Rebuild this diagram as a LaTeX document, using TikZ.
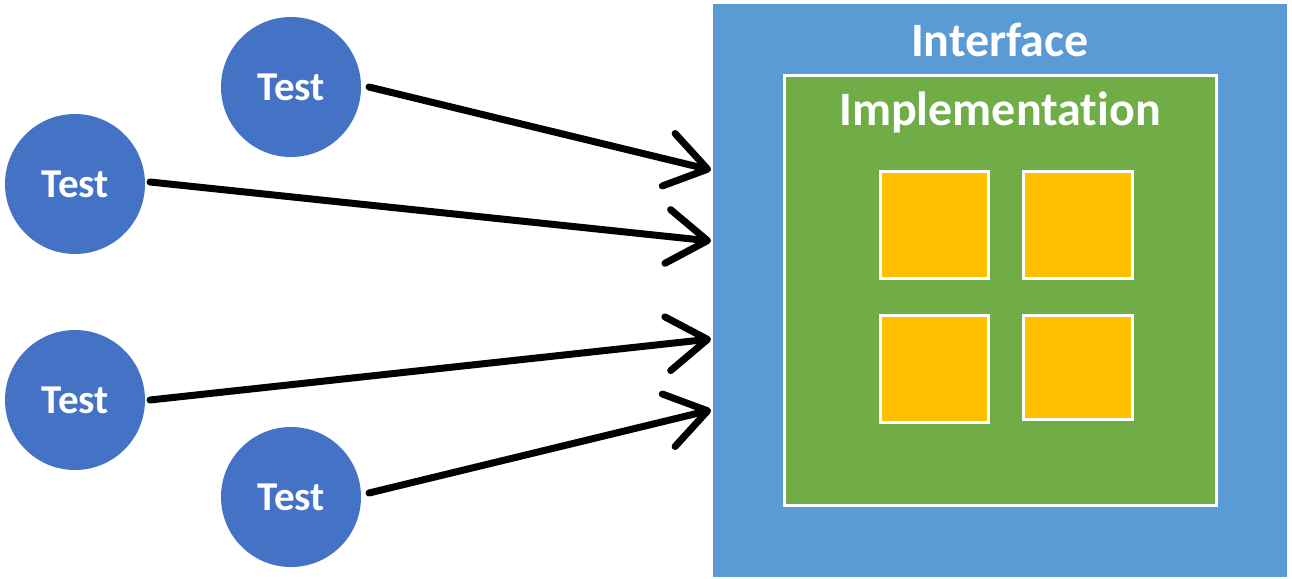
\documentclass[tikz,border=0pt]{standalone}
\usepackage{fontspec}
\setmainfont{Carlito}[Ligatures=NoCommon]
\usetikzlibrary{arrows.meta}
\definecolor{testblue}{HTML}{4472C4}
\definecolor{ifblue}{HTML}{5B9BD5}
\definecolor{impgreen}{HTML}{70AD47}
\definecolor{modyellow}{HTML}{FFC000}
\tikzset{
  testnode/.style={circle, fill=testblue, minimum size=140pt, inner sep=0pt, text=white, font=\bfseries\fontsize{41}{48}\selectfont},
  modbox/.style={fill=modyellow, draw=white, line width=3pt},
  conn/.style={line width=7pt, line cap=round, line join=round, -{Straight Barb[length=40pt, width=54pt, round]}},
  title/.style={text=white, font=\bfseries\fontsize{48}{56}\selectfont, inner sep=0pt}
}
\begin{document}
\begin{tikzpicture}[x=1pt, y=-1pt]
\useasboundingbox (0,0) rectangle (1292,578);
\fill[ifblue] (713,4) rectangle (1287,577);
\node[title] (iftitle) at (1000,40) {Interface};
\draw[fill=impgreen, draw=white, line width=3pt] (784,75) rectangle (1216,505);
\node[title] (imptitle) at (1000,112) {Implementation};
\draw[modbox] (880,171) rectangle (988,278);
\draw[modbox] (1023,171) rectangle (1132,278);
\draw[modbox] (880,315) rectangle (988,422);
\draw[modbox] (1023,315) rectangle (1132,419);
\node[testnode] (t1) at (291,87) {Test};
\node[testnode] (t2) at (75,184) {Test};
\node[testnode] (t3) at (75,400) {Test};
\node[testnode] (t4) at (291,497) {Test};
\coordinate (a1) at (711,170);
\coordinate (a2) at (711,241);
\coordinate (a3) at (711,339);
\coordinate (a4) at (711,410);
\draw[conn] (369,87) -- (a1);
\draw[conn] (150,182) -- (a2);
\draw[conn] (150,400) -- (a3);
\draw[conn] (369,493) -- (a4);
\end{tikzpicture}
\end{document}
